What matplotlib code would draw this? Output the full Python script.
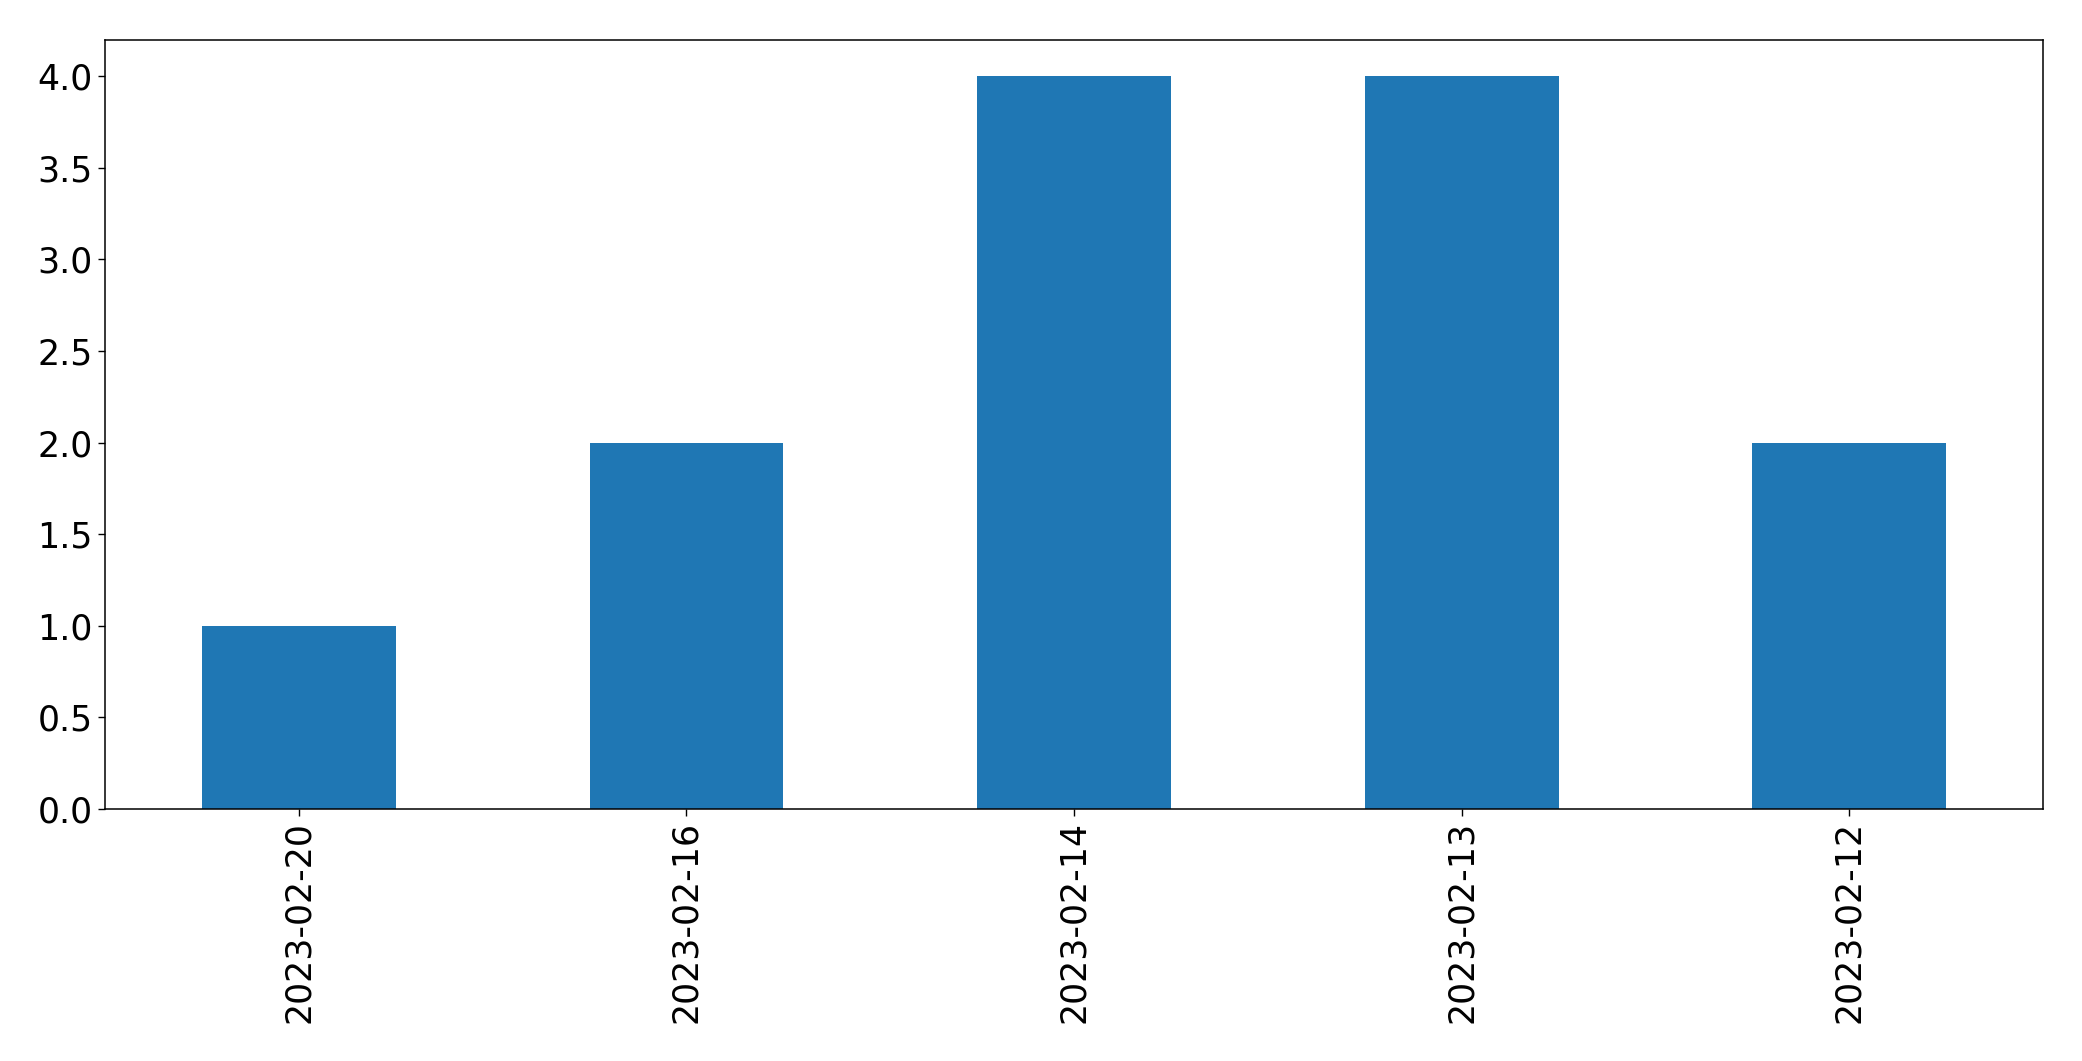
import matplotlib
matplotlib.use("Agg")
import matplotlib.pyplot as plt

dates = ["2023-02-20", "2023-02-16", "2023-02-14", "2023-02-13", "2023-02-12"]
counts = [1, 2, 4, 4, 2]

W, H = 2082, 1061
fig = plt.figure(figsize=(W / 100, H / 100), dpi=100)
ax = fig.add_axes([105 / W, 1 - 809 / H, (2043 - 105) / W, (809 - 39.5) / H])

x = list(range(len(dates)))
ax.bar(x, counts, width=0.5, color="#1f77b4")
ax.set_xlim(-0.5, len(dates) - 0.5)
ax.set_ylim(0, 4.2)
ax.set_xticks(x)
ax.set_xticklabels(dates, rotation=90, fontsize=25)
ax.set_yticks([0, 0.5, 1.0, 1.5, 2.0, 2.5, 3.0, 3.5, 4.0])
ax.set_yticklabels(["0.0", "0.5", "1.0", "1.5", "2.0", "2.5", "3.0", "3.5", "4.0"], fontsize=25)
ax.tick_params(length=5.3, width=1.0)
for s in ax.spines.values():
    s.set_linewidth(1.1)
    s.set_color("black")

fig.savefig("out.png", dpi=100)
